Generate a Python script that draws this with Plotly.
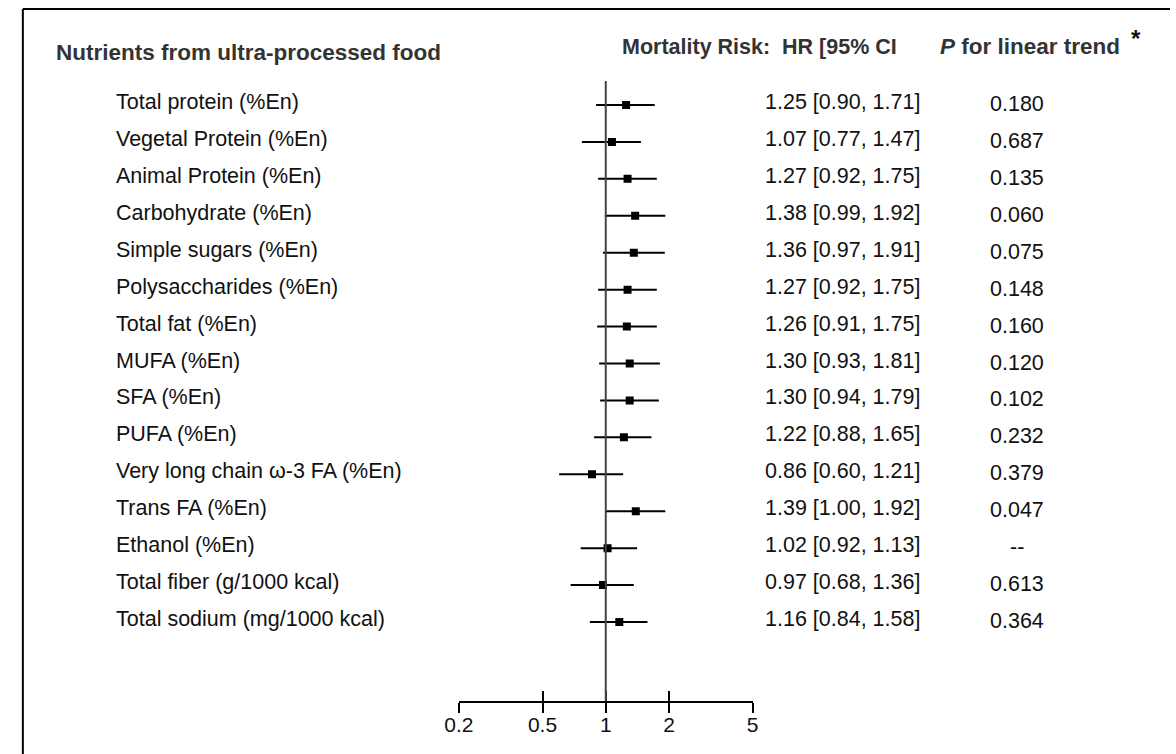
import numpy as np
import plotly.graph_objects as go

W, H = 1176, 754

nutrients = [
    "Total protein (%En)", "Vegetal Protein (%En)", "Animal Protein (%En)",
    "Carbohydrate (%En)", "Simple sugars (%En)", "Polysaccharides (%En)",
    "Total fat (%En)", "MUFA (%En)", "SFA (%En)", "PUFA (%En)",
    "Very long chain ω-3 FA (%En)", "Trans FA (%En)", "Ethanol (%En)",
    "Total fiber (g/1000 kcal)", "Total sodium (mg/1000 kcal)",
]
hr = [1.25, 1.07, 1.27, 1.38, 1.36, 1.27, 1.26, 1.30, 1.30, 1.22, 0.86, 1.39, 1.02, 0.97, 1.16]
ci_low = [0.90, 0.77, 0.92, 0.99, 0.97, 0.92, 0.91, 0.93, 0.94, 0.88, 0.60, 1.00, 0.92, 0.68, 0.84]
ci_high = [1.71, 1.47, 1.75, 1.92, 1.91, 1.75, 1.75, 1.81, 1.79, 1.65, 1.21, 1.92, 1.13, 1.36, 1.58]
# bars as drawn in the picture (ethanol's drawn interval is wider than its label)
plot_low = [0.90, 0.77, 0.92, 0.99, 0.97, 0.92, 0.91, 0.93, 0.94, 0.88, 0.60, 1.00, 0.76, 0.68, 0.84]
plot_high = [1.71, 1.47, 1.75, 1.92, 1.91, 1.75, 1.75, 1.81, 1.79, 1.65, 1.21, 1.92, 1.41, 1.36, 1.58]
p_trend = ["0.180", "0.687", "0.135", "0.060", "0.075", "0.148", "0.160", "0.120",
           "0.102", "0.232", "0.379", "0.047", "--", "0.613", "0.364"]
tick_vals = [0.2, 0.5, 1, 2, 5]
tick_text = ["0.2", "0.5", "1", "2", "5"]

rows = list(range(len(nutrients)))
hr_arr = np.array(hr)
err_plus = np.array(plot_high) - hr_arr
err_minus = hr_arr - np.array(plot_low)

FONT = "Liberation Sans, Arial, sans-serif"

def px_x(p):
    return p / W

def px_y(p):
    return 1 - p / H

fig = go.Figure()
fig.add_trace(go.Scatter(
    x=hr, y=rows, mode="markers",
    marker=dict(symbol="square", size=8, color="black"),
    error_x=dict(type="data", symmetric=False, array=err_plus, arrayminus=err_minus,
                 width=0, thickness=2, color="black"),
    showlegend=False, hoverinfo="skip",
))
fig.add_trace(go.Scatter(x=hr, y=rows, mode="markers", xaxis="x2",
                         marker=dict(opacity=0), showlegend=False, hoverinfo="skip"))

# row spacing mapping: row 0 at pixel 105, spacing 36.93
r0, dr = 105.0, 36.93
y_top_px, y_bot_px = 81.0, 701.0
yr = [(y_bot_px - r0) / dr, (y_top_px - r0) / dr]

xdom = [px_x(452), px_x(751)]
axis_common = dict(type="log", range=[np.log10(0.2), np.log10(5)], domain=xdom,
                   tickvals=tick_vals, showgrid=False, zeroline=False)
fig.update_layout(
    width=W, height=H, margin=dict(l=0, r=0, t=0, b=0),
    paper_bgcolor="white", plot_bgcolor="rgba(0,0,0,0)",
    xaxis=dict(**axis_common, ticktext=tick_text, ticks="outside", ticklen=10,
               tickwidth=2, tickcolor="black", showline=True, linewidth=2,
               linecolor="black", tickfont=dict(family=FONT, size=21, color="#111"),
               ticklabelstandoff=-6, anchor="y"),
    xaxis2=dict(**axis_common, overlaying="x", anchor="y", side="bottom",
                ticks="inside", ticklen=10, tickwidth=2, tickcolor="black",
                showticklabels=False, showline=False),
    yaxis=dict(range=yr, domain=[px_y(y_bot_px), px_y(y_top_px)], visible=False),
)

# reference line at HR = 1
fig.add_shape(type="line", xref="x", yref="y domain", x0=1, x1=1, y0=0, y1=1,
              line=dict(color="#444", width=2))

# border (top and left visible)
fig.add_shape(type="line", xref="paper", yref="paper", x0=px_x(8), x1=1.0,
              y0=px_y(9), y1=px_y(9), line=dict(color="black", width=2))
fig.add_shape(type="line", xref="paper", yref="paper", x0=px_x(8), x1=px_x(8),
              y0=px_y(9), y1=0.0, line=dict(color="black", width=2))

# headers
HDR_COLOR = "#333"
fig.add_annotation(x=px_x(40), y=px_y(52), xref="paper", yref="paper", xanchor="left",
                   yanchor="middle", text="<b>Nutrients from ultra-processed food</b>",
                   showarrow=False, font=dict(family=FONT, size=22.5, color=HDR_COLOR))
fig.add_annotation(x=px_x(616), y=px_y(47), xref="paper", yref="paper", xanchor="left",
                   yanchor="middle", text="<b>Mortality Risk:&nbsp; HR [95% CI</b>",
                   showarrow=False, font=dict(family=FONT, size=21.5, color=HDR_COLOR))
fig.add_annotation(x=px_x(940), y=px_y(47), xref="paper", yref="paper", xanchor="left",
                   yanchor="middle", text="<b><i>P</i> for linear trend</b>",
                   showarrow=False, font=dict(family=FONT, size=22.5, color=HDR_COLOR))
fig.add_annotation(x=px_x(1141), y=px_y(38), xref="paper", yref="paper", xanchor="center",
                   yanchor="middle", text="<b>*</b>", showarrow=False,
                   font=dict(family=FONT, size=24, color="#111"))

row_font = dict(family=FONT, size=21.5, color="#111")
for i, name in enumerate(nutrients):
    fig.add_annotation(x=px_x(101), y=i, xref="paper", yref="y", xanchor="left",
                       yanchor="middle", yshift=3, text=name, showarrow=False, font=row_font)
    lab = f"{hr[i]:.2f} [{ci_low[i]:.2f}, {ci_high[i]:.2f}]"
    fig.add_annotation(x=px_x(762), y=i, xref="paper", yref="y", xanchor="left",
                       yanchor="middle", yshift=3, text=lab, showarrow=False, font=row_font)
    fig.add_annotation(x=px_x(1020), y=i, xref="paper", yref="y", xanchor="center",
                       yanchor="middle", yshift=1, text=p_trend[i], showarrow=False,
                       font=row_font)

fig.write_html("out.html", config={"displayModeBar": False},
               post_script="document.body.style.margin='0';document.body.style.overflow='hidden';")
